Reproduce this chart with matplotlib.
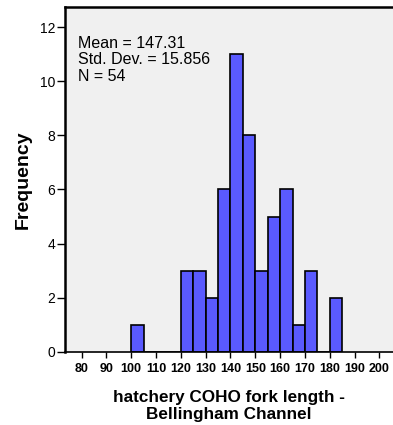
import matplotlib.pyplot as plt
import numpy as np

# histogram bins (width 5) and counts
bin_left = [100, 105, 110, 115, 120, 125, 130, 135, 140, 145, 150, 155, 160, 165, 170, 175, 180]
counts = [1, 0, 0, 0, 3, 3, 2, 6, 11, 8, 3, 5, 6, 1, 3, 0, 2]
xticks = [80, 90, 100, 110, 120, 130, 140, 150, 160, 170, 180, 190, 200]
yticks = [0, 2, 4, 6, 8, 10, 12]
stats = ["Mean = 147.31", "Std. Dev. = 15.856", "N = 54"]

plt.rcParams['font.family'] = ['Liberation Sans', 'DejaVu Sans']

fig = plt.figure(figsize=(3.93, 4.25), dpi=100)
ax = fig.add_axes([0.1654, 0.1718, 0.8346, 0.8118])
ax.set_facecolor('#F0F0F0')

ax.bar(bin_left, counts, width=5, align='edge', color='#5A5AFF',
       edgecolor='black', linewidth=1.2)

ax.set_xlim(73.3, 205.5)
ax.set_ylim(0, 12.74)
ax.set_xticks(xticks)
ax.set_xticklabels([str(t) for t in xticks], fontsize=9, fontweight='bold')
ax.set_yticks(yticks)
ax.set_yticklabels([str(t) for t in yticks], fontsize=10)
ax.tick_params(axis='y', length=6, width=1, direction='out', pad=1)
ax.tick_params(axis='x', length=4, width=1, direction='out', pad=4)

ax.spines['right'].set_visible(False)
ax.spines['top'].set_linewidth(1.8)
ax.spines['left'].set_linewidth(1.8)
ax.spines['bottom'].set_linewidth(1.2)

ax.set_ylabel('Frequency', fontsize=14, fontweight='bold', labelpad=6)
ax.set_xlabel('hatchery COHO fork length -\nBellingham Channel', fontsize=12.3,
              fontweight='bold', labelpad=11, linespacing=1.1)

ax.text(0.04, 0.915, "\n".join(stats), transform=ax.transAxes, fontsize=11.5,
        va='top', ha='left', linespacing=1.1)

fig.savefig('out.png', dpi=100)
